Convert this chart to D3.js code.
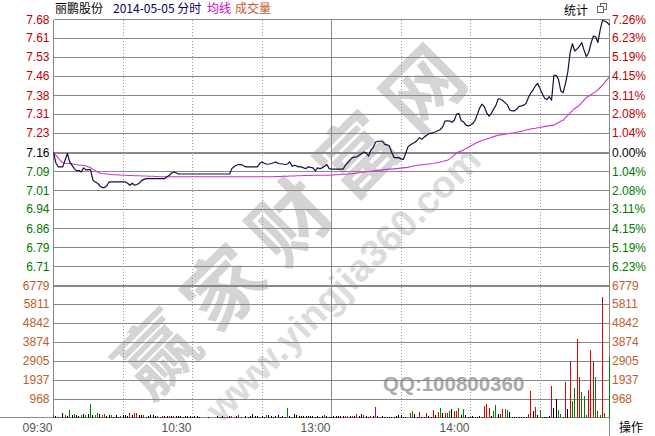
<!DOCTYPE html>
<html><head><meta charset="utf-8">
<script src="https://cdn.jsdelivr.net/npm/d3@7"></script>
<style>body{margin:0;background:#fff}svg{display:block}</style>
</head><body>
<svg id="c" width="655" height="436"></svg>
<script>
// ---- data ----
const stockName = "丽鹏股份";
const dateText = "2014-05-05 分时";
const prevClose = 7.16;
const maxPct = 7.26;
const volMax = 6779;
const pctTicks = [7.26,6.23,5.19,4.15,3.11,2.08,1.04,0,-1.04,-2.08,-3.11,-4.15,-5.19,-6.23];
const priceLabels = ["7.68","7.61","7.53","7.46","7.38","7.31","7.23","7.16","7.09","7.01","6.94","6.86","6.79","6.71"];
const pctLabels = ["7.26%","6.23%","5.19%","4.15%","3.11%","2.08%","1.04%","0.00%","1.04%","2.08%","3.11%","4.15%","5.19%","6.23%"];
const volTicks = [6779,5811,4842,3874,2905,1937,968];
const timeLabels = ["09:30","10:30","13:00","14:00"];
const timeLabelMinutes = [0,60,120,180];
const gridMinutes = [30,60,90,120,150,180,210];

const prices = [
7.160,7.120,7.104,7.104,7.104,7.130,7.156,7.123,7.110,7.097,
7.088,7.090,7.084,7.100,7.092,7.093,7.093,7.052,7.045,7.040,
7.030,7.023,7.023,7.030,7.045,7.045,7.045,7.045,7.045,7.045,
7.045,7.045,7.040,7.032,7.040,7.032,7.035,7.040,7.050,7.055,
7.058,7.058,7.058,7.058,7.058,7.058,7.058,7.058,7.058,7.065,
7.071,7.080,7.084,7.080,7.076,7.076,7.076,7.076,7.076,7.076,
7.076,7.076,7.076,7.076,7.076,7.076,7.076,7.076,7.076,7.076,
7.076,7.076,7.076,7.076,7.076,7.076,7.076,7.097,7.105,7.110,
7.113,7.113,7.108,7.104,7.104,7.104,7.104,7.104,7.104,7.117,
7.123,7.118,7.114,7.115,7.117,7.120,7.123,7.117,7.116,7.115,
7.113,7.115,7.123,7.106,7.110,7.107,7.104,7.104,7.100,7.097,
7.104,7.102,7.100,7.088,7.100,7.097,7.100,7.106,7.113,7.097,
7.095,7.095,7.095,7.095,7.095,7.095,7.110,7.120,7.130,7.140,
7.142,7.143,7.150,7.155,7.162,7.158,7.146,7.169,7.180,7.200,
7.204,7.204,7.204,7.192,7.190,7.185,7.160,7.140,7.140,7.140,
7.135,7.133,7.156,7.182,7.189,7.195,7.200,7.208,7.218,7.212,
7.220,7.226,7.234,7.236,7.238,7.241,7.245,7.250,7.260,7.283,
7.284,7.283,7.278,7.286,7.310,7.312,7.284,7.280,7.267,7.264,
7.267,7.273,7.286,7.310,7.335,7.349,7.338,7.315,7.302,7.313,
7.330,7.345,7.370,7.368,7.362,7.354,7.345,7.325,7.323,7.323,
7.330,7.340,7.342,7.345,7.352,7.375,7.392,7.405,7.420,7.430,
7.410,7.390,7.372,7.367,7.378,7.365,7.462,7.462,7.445,7.400,
7.394,7.430,7.475,7.550,7.585,7.556,7.565,7.575,7.590,7.560,
7.535,7.550,7.586,7.615,7.612,7.590,7.640,7.677,7.673,7.668,
7.658];

const avgPrices = [
7.160,7.150,7.140,7.128,7.120,7.118,7.117,7.117,7.116,7.114,
7.112,7.111,7.110,7.109,7.107,7.104,7.100,7.094,7.089,7.084,
7.080,7.078,7.077,7.076,7.075,7.074,7.073,7.073,7.072,7.072,
7.071,7.071,7.070,7.070,7.070,7.069,7.069,7.069,7.068,7.068,
7.068,7.067,7.067,7.067,7.066,7.066,7.065,7.065,7.065,7.065,
7.065,7.065,7.065,7.065,7.065,7.065,7.065,7.065,7.065,7.065,
7.065,7.065,7.065,7.065,7.065,7.065,7.065,7.065,7.065,7.065,
7.065,7.065,7.065,7.065,7.065,7.065,7.065,7.065,7.065,7.065,
7.065,7.065,7.065,7.065,7.065,7.065,7.065,7.065,7.065,7.065,
7.065,7.065,7.065,7.065,7.065,7.065,7.066,7.066,7.066,7.067,
7.067,7.067,7.068,7.068,7.068,7.069,7.069,7.069,7.070,7.070,
7.070,7.070,7.071,7.071,7.071,7.071,7.071,7.071,7.071,7.071,
7.072,7.072,7.073,7.073,7.074,7.075,7.075,7.076,7.077,7.078,
7.078,7.080,7.081,7.082,7.084,7.085,7.086,7.087,7.088,7.089,
7.090,7.091,7.092,7.093,7.094,7.095,7.095,7.096,7.097,7.098,
7.099,7.100,7.101,7.102,7.104,7.106,7.108,7.110,7.111,7.112,
7.113,7.114,7.115,7.116,7.117,7.119,7.121,7.123,7.125,7.128,
7.130,7.135,7.142,7.150,7.158,7.163,7.166,7.170,7.176,7.180,
7.185,7.189,7.195,7.200,7.204,7.208,7.210,7.213,7.216,7.219,
7.222,7.225,7.228,7.229,7.230,7.232,7.233,7.234,7.236,7.237,
7.239,7.241,7.243,7.245,7.248,7.250,7.252,7.254,7.255,7.257,
7.258,7.260,7.262,7.263,7.265,7.266,7.267,7.272,7.277,7.282,
7.286,7.296,7.305,7.315,7.325,7.332,7.338,7.345,7.355,7.365,
7.375,7.380,7.386,7.392,7.397,7.405,7.414,7.423,7.435,7.445,
7.456];

const volumes = [
170,80,30,60,270,150,120,410,150,200,
150,100,170,200,150,200,720,170,150,240,
200,150,200,100,140,140,60,170,40,100,
150,170,80,240,150,270,240,150,140,150,
60,100,170,140,100,120,60,100,90,100,
90,100,90,100,80,100,60,100,90,100,
60,90,100,70,0,0,0,50,0,0,
0,80,60,100,70,70,90,100,60,80,
170,60,0,80,40,100,200,80,100,60,
100,50,150,150,80,60,100,150,50,80,
40,500,100,60,200,150,80,90,80,90,
80,80,100,60,90,50,100,150,80,60,
50,80,100,80,90,100,80,90,100,80,
100,180,120,200,150,100,60,100,80,550,
120,60,90,60,60,60,60,60,80,150,
150,50,60,0,270,380,200,60,310,60,
40,240,120,60,410,170,290,510,240,240,
240,380,480,340,380,500,170,480,170,60,
60,80,60,60,80,60,610,700,510,80,
380,680,200,200,440,460,410,290,30,30,
30,30,50,30,30,200,1400,380,580,170,
410,30,30,30,80,1660,510,980,410,200,
30,1830,460,2910,890,1540,4020,2100,1320,1100,
170,1440,3490,2930,2100,380,170,6200,240,0,
3110];

// 1 = up (red), -1 = down (green), 0 = flat (black)
const volDirs = [
-1,0,0,-1,0,1,0,-1,0,-1,
0,0,-1,0,-1,0,-1,0,-1,-1,
0,-1,1,0,0,-1,0,0,0,1,
0,0,0,1,0,1,1,0,0,1,
0,0,0,0,0,1,0,1,0,0,
1,0,1,0,0,0,0,0,0,0,
0,0,0,0,0,0,0,0,0,0,
0,0,0,0,1,0,0,1,1,0,
1,0,0,0,0,0,0,0,0,0,
0,0,-1,0,0,0,0,0,0,0,
0,-1,0,0,0,0,0,0,0,0,
0,0,0,0,0,0,0,1,0,0,
0,0,0,0,0,0,1,1,0,1,
0,1,0,0,1,0,0,1,0,1,
0,0,0,0,0,0,0,0,0,0,
0,0,0,0,1,-1,0,0,1,0,
0,1,0,0,1,0,1,-1,0,1,
1,-1,0,1,1,-1,0,-1,0,0,
0,0,0,0,0,0,1,1,1,0,
-1,-1,0,1,1,-1,-1,0,0,0,
0,0,0,0,0,1,1,0,1,0,
-1,0,0,0,0,1,0,0,-1,-1,
0,1,0,1,-1,-1,1,1,-1,-1,
-1,1,1,1,-1,-1,-1,1,-1,0,
-1];

// ---- drawing ----
const svg = d3.select("#c");
const L = 53.5, R = 609.5;
const x = d3.scaleLinear().domain([0, 240]).range([L, R]);
const yP = d3.scaleLinear()
  .domain([prevClose * (1 - maxPct / 100), prevClose * (1 + maxPct / 100)])
  .range([285.5, 19.5]);
const yV = d3.scaleLinear().domain([0, volMax]).range([418, 285.5]);
const snap = v => Math.round(v - 0.5) + 0.5;

const RED = "#c00000", GREEN = "#007a00", ORANGE = "#c0602a";
const cjk = "'Noto Sans CJK SC', sans-serif";
const num = "'Liberation Sans', Arial, sans-serif";

// watermark
const wm = svg.append("g");
wm.append("text").attr("transform", "translate(292,212) rotate(-45)")
  .attr("text-anchor", "middle").attr("dominant-baseline", "central")
  .style("font-family", cjk).style("font-weight", "bold").style("font-size", "78px")
  .style("letter-spacing", "16px")
  .attr("fill", "#d4d4d4").text("赢家财富网");
wm.append("text").attr("transform", "translate(343,284) rotate(-45)")
  .attr("text-anchor", "middle").attr("dominant-baseline", "central")
  .style("font-family", num).style("font-weight", "bold").style("font-size", "38px")
  .attr("fill", "#dcdcdc").text("www.yingjia360.com");
wm.append("text").attr("x", 383).attr("y", 391)
  .style("font-family", num).style("font-weight", "bold").style("font-size", "20.5px")
  .attr("fill", "#a9a9a9").text("QQ:100800360");

// horizontal grid (price)
const grid = svg.append("g").attr("shape-rendering", "crispEdges");
pctTicks.forEach(p => {
  const yy = snap(yP(prevClose * (1 + p / 100)));
  grid.append("line").attr("x1", L).attr("x2", R).attr("y1", yy).attr("y2", yy)
    .attr("stroke", "#888").attr("stroke-width", p === 0 ? 2 : 1);
});
// volume grid
volTicks.forEach((v, i) => {
  const yy = snap(yV(v));
  grid.append("line").attr("x1", L).attr("x2", R).attr("y1", yy).attr("y2", yy)
    .attr("stroke", "#888").attr("stroke-width", i === 0 ? 2 : 1);
});
// vertical grid
gridMinutes.forEach(m => {
  const xx = snap(x(m));
  grid.append("line").attr("x1", xx).attr("x2", xx).attr("y1", 19.5).attr("y2", 418)
    .attr("stroke", m === 120 ? "#888" : "#999")
    .attr("stroke-dasharray", m === 120 ? null : "1,2");
});
// frame
grid.append("line").attr("x1", L).attr("x2", L).attr("y1", 19.5).attr("y2", 418).attr("stroke", "#888");
grid.append("line").attr("x1", R).attr("x2", R).attr("y1", 19.5).attr("y2", 436).attr("stroke", "#888");
grid.append("line").attr("x1", 0).attr("x2", R).attr("y1", 417.5).attr("y2", 417.5).attr("stroke", "#888");

// volume bars
const bars = svg.append("g").attr("shape-rendering", "crispEdges");
volumes.forEach((v, i) => {
  if (!v) return;
  const xx = snap(x(i));
  bars.append("line").attr("x1", xx).attr("x2", xx)
    .attr("y1", yV(0)).attr("y2", yV(v))
    .attr("stroke", volDirs[i] > 0 ? "#dd0000" : volDirs[i] < 0 ? "#008000" : "#000");
});

// average line
svg.append("path").datum(avgPrices)
  .attr("fill", "none").attr("stroke", "#cc33cc").attr("stroke-width", 1.1)
  .attr("d", d3.line().x((d, i) => x(i)).y(d => yP(d)));
// price line
svg.append("path").datum(prices)
  .attr("fill", "none").attr("stroke", "#101040").attr("stroke-width", 1.2)
  .attr("stroke-linejoin", "round")
  .attr("d", d3.line().x((d, i) => x(i)).y(d => yP(d)));

// left/right axis labels
const labels = svg.append("g").style("font-family", num).style("font-size", "12px");
pctTicks.forEach((p, i) => {
  const yy = yP(prevClose * (1 + p / 100)) + 4;
  const col = p > 0 ? RED : p < 0 ? GREEN : "#000";
  labels.append("text").attr("x", 49.5).attr("y", yy).attr("text-anchor", "end")
    .attr("fill", col).text(priceLabels[i]);
  labels.append("text").attr("x", 612).attr("y", yy)
    .attr("fill", col).text(pctLabels[i]);
});
volTicks.forEach(v => {
  const yy = yV(v) + 4;
  labels.append("text").attr("x", 49.5).attr("y", yy).attr("text-anchor", "end")
    .attr("fill", ORANGE).text(v);
  labels.append("text").attr("x", 612).attr("y", yy)
    .attr("fill", ORANGE).text(v);
});
// time labels
timeLabels.forEach((t, i) => {
  labels.append("text").attr("x", x(timeLabelMinutes[i]) - 1).attr("y", 432)
    .attr("text-anchor", "end").attr("fill", "#555").text(t);
});

// header
svg.append("text").attr("x", 55).attr("y", 13).style("font-family", cjk).style("font-size", "12px")
  .attr("fill", "#000").text(stockName);
svg.append("text").attr("x", 113).attr("y", 13).style("font-family", cjk).style("font-size", "12px")
  .attr("fill", "#000066").text(dateText);
svg.append("text").attr("x", 207).attr("y", 13).style("font-family", cjk).style("font-size", "12px")
  .attr("fill", "#cc00cc").text("均线");
svg.append("text").attr("x", 235).attr("y", 13).style("font-family", cjk).style("font-size", "12px")
  .attr("fill", "#c0602a").text("成交量");
svg.append("text").attr("x", 564).attr("y", 15).style("font-family", cjk).style("font-size", "12px")
  .attr("fill", "#000").text("统计");
// restore icon
const ic = svg.append("g").attr("shape-rendering", "crispEdges").attr("fill", "#fff").attr("stroke", "#666");
ic.append("rect").attr("x", 600.5).attr("y", 3.5).attr("width", 6).attr("height", 6);
ic.append("rect").attr("x", 597.5).attr("y", 6.5).attr("width", 6).attr("height", 6);
svg.append("text").attr("x", 619).attr("y", 432).style("font-family", cjk).style("font-size", "12px")
  .attr("fill", "#000").text("操作");
</script>
</body></html>
